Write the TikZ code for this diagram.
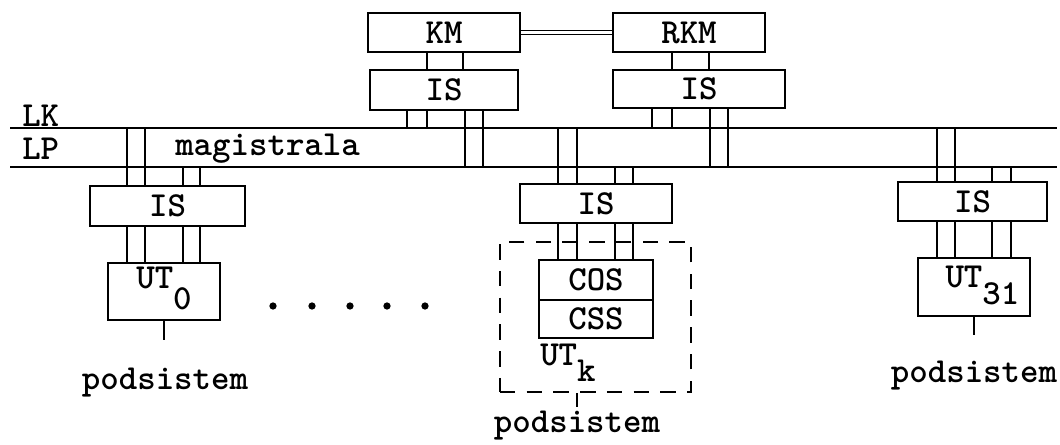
\documentclass[tikz,border=0pt]{standalone}
\usepackage{fontspec}
\usetikzlibrary{positioning}
\newcommand{\lbl}{\fontsize{25}{30}\selectfont\ttfamily\bfseries}
\tikzset{
  blk/.style={draw, line width=1.4pt, inner sep=0pt, font=\lbl},
  dashbox/.style={draw, line width=1.7pt, dash pattern=on 11pt off 8pt, inner sep=0pt},
  wire/.style={line width=1.1pt},
  bus/.style={line width=1.9pt},
  txt/.style={font=\lbl, inner sep=0pt},
}

\begin{document}
\begin{tikzpicture}[x=0.025cm, y=-0.025cm]
\useasboundingbox (0,0) rectangle (1060,445);
% magistrala: LK and LP
\coordinate (lkw) at (10,128); \coordinate (lke) at (1057,128);
\coordinate (lpw) at (10,167); \coordinate (lpe) at (1057,167);
\draw[bus] (lkw) -- (lke);
\draw[bus] (lpw) -- (lpe);
\node[txt, anchor=west] (lk) at (22,116) {LK};
\node[txt, anchor=west] (lp) at (22,149) {LP};
\node[txt, anchor=west] (mag) at (175,149) {magistrala};

% KM and RKM
\node[blk, minimum width=3.8cm, minimum height=0.975cm] (KM) at (444,32.5) {KM};
\node[blk, minimum width=3.8cm, minimum height=0.975cm] (RKM) at (689,32.5) {RKM};
\draw[line width=0.9pt, double, double distance=2pt] (KM) -- (RKM);
\node[blk, minimum width=3.7cm, minimum height=1cm] (ISkm) at (444,90) {IS};
\node[blk, minimum width=4.3cm, minimum height=0.95cm] (ISrkm) at (699,89) {IS};
\foreach \x in {427,463} \draw[wire] (KM.south -| \x,0) -- (ISkm.north -| \x,0);
\foreach \x in {672,709} \draw[wire] (RKM.south -| \x,0) -- (ISrkm.north -| \x,0);
\foreach \x in {407,427} \draw[wire] (ISkm.south -| \x,0) -- (lkw -| \x,0);
\foreach \x in {465,483} \draw[wire] (ISkm.south -| \x,0) -- (lpw -| \x,0);
\foreach \x in {652,672} \draw[wire] (ISrkm.south -| \x,0) -- (lkw -| \x,0);
\foreach \x in {710,728} \draw[wire] (ISrkm.south -| \x,0) -- (lpw -| \x,0);

% UT_0
\node[blk, minimum width=3.875cm, minimum height=1cm] (IS0) at (167.5,206) {IS};
\node[blk, minimum width=2.8cm, minimum height=1.425cm] (UT0) at (164,291.5) {};
\node[txt, anchor=north] (ut0) at ([yshift=-3.5pt]UT0.north) {UT\raisebox{-0.58em}{0}};
\foreach \x in {127,145} \draw[wire] (IS0.north -| \x,0) -- (lkw -| \x,0);
\foreach \x in {183,200} \draw[wire] (IS0.north -| \x,0) -- (lpw -| \x,0);
\foreach \x in {127,145,183,200} \draw[wire] (IS0.south -| \x,0) -- (UT0.north -| \x,0);
\coordinate (s0) at (164,340);
\draw[wire] (UT0.south) -- (s0);
\node[txt] (pod0) at (165,383) {podsistem};

% dots
\foreach \x in {273,312,350,387,425} \fill (\x,306) circle (2.6pt);

% UT_k
\node[blk, minimum width=3.8cm, minimum height=0.975cm] (ISk) at (596,203.5) {IS};
\node[dashbox, minimum width=4.775cm, minimum height=3.75cm] (UTk) at (595.5,317) {};
\node[blk, minimum width=2.85cm, minimum height=1cm] (COS) at (596,280) {COS};
\node[blk, minimum width=2.85cm, minimum height=0.95cm, below=-1.4pt of COS] (CSS) {CSS};
\node[txt, anchor=north west] (utk) at (540,344) {UT\raisebox{-0.45em}{k}};
\foreach \x in {558,577} \draw[wire] (ISk.north -| \x,0) -- (lkw -| \x,0);
\foreach \x in {615,633} \draw[wire] (ISk.north -| \x,0) -- (lpw -| \x,0);
\foreach \x in {558,577,615,633} \draw[wire] (ISk.south -| \x,0) -- (COS.north -| \x,0);
\coordinate (sk) at (577,407);
\draw[wire] (UTk.south -| sk) -- (sk);
\node[txt] (podk) at (577,426) {podsistem};

% UT_31
\node[blk, minimum width=3.725cm, minimum height=0.975cm] (IS31) at (972.5,201.5) {IS};
\node[blk, minimum width=2.8cm, minimum height=1.45cm] (UT31) at (974,287) {};
\node[txt, anchor=north] (ut31) at ([xshift=6pt,yshift=-6pt]UT31.north) {UT\raisebox{-0.5em}{31}};
\foreach \x in {937,955} \draw[wire] (IS31.north -| \x,0) -- (lkw -| \x,0);
\foreach \x in {992,1011} \draw[wire] (IS31.north -| \x,0) -- (lpw -| \x,0);
\foreach \x in {937,955,992,1011} \draw[wire] (IS31.south -| \x,0) -- (UT31.north -| \x,0);
\coordinate (s31) at (974,335);
\draw[wire] (UT31.south) -- (s31);
\node[txt] (pod31) at (974,376) {podsistem};
\end{tikzpicture}
\end{document}
